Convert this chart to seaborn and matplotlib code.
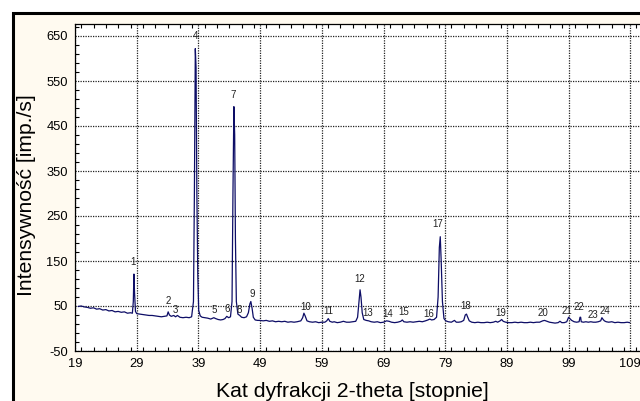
import matplotlib
matplotlib.use("Agg")
import matplotlib.pyplot as plt
from matplotlib.patches import Rectangle
from matplotlib.ticker import MultipleLocator, FixedLocator
import seaborn as sns
import pandas as pd

# ---- data ----
two_theta = [19.5, 20, 20.5, 21, 21.5, 22, 22.5, 23, 23.5, 24, 24.5, 25, 25.5, 26, 26.5, 27, 27.5, 28, 28.3,
             28.45, 28.55, 28.65, 28.8, 29, 29.5, 30, 30.5, 31, 31.5, 32, 32.5, 33, 33.5, 33.9, 34.1, 34.3,
             34.6, 35, 35.3, 35.6, 36, 36.5, 37, 37.5, 37.9, 38.2, 38.35, 38.5, 38.62, 38.75, 38.9, 39.05,
             39.3, 39.6, 40, 40.5, 41, 41.5, 41.8, 42.2, 42.6, 43, 43.3, 43.6, 43.9, 44.2, 44.45, 44.6,
             44.75, 44.88, 45.0, 45.15, 45.4, 45.7, 46, 46.4, 46.8, 47.1, 47.35, 47.5, 47.7, 47.9, 48.2,
             48.6, 49, 49.5, 50, 50.5, 51, 51.5, 52, 52.5, 53, 53.5, 54, 54.5, 55, 55.6, 55.9, 56.1, 56.3,
             56.6, 57, 57.5, 58, 58.5, 59, 59.5, 59.8, 60.05, 60.3, 60.7, 61, 61.5, 62, 62.5, 63, 63.5, 64,
             64.5, 64.8, 65.0, 65.2, 65.35, 65.55, 65.8, 66.2, 66.6, 67, 67.5, 68, 68.5, 69, 69.5, 69.9,
             70.3, 70.8, 71.3, 71.8, 72.05, 72.3, 72.8, 73.3, 73.8, 74.3, 74.8, 75.3, 75.8, 76.2, 76.5,
             76.8, 77.2, 77.6, 77.85, 78.05, 78.2, 78.35, 78.55, 78.8, 79.1, 79.5, 80, 80.5, 80.8, 81.2,
             81.6, 82, 82.25, 82.45, 82.65, 82.9, 83.3, 83.8, 84.3, 84.8, 85.3, 85.8, 86.3, 86.8, 87.2,
             87.5, 87.9, 88.15, 88.4, 88.8, 89.3, 89.8, 90.3, 90.8, 91.3, 91.8, 92.3, 92.8, 93.3, 93.8,
             94.3, 94.8, 95.1, 95.5, 95.9, 96.3, 96.8, 97.3, 97.6, 97.9, 98.3, 98.7, 99.0, 99.2, 99.5,
             99.9, 100.3, 100.7, 100.85, 100.95, 101.05, 101.4, 101.8, 102.2, 102.6, 103, 103.4, 103.8,
             104.2, 104.4, 104.6, 104.8, 105.1, 105.5, 106, 106.5, 107, 107.5, 108, 108.5, 108.9]
intensity = [49, 50, 48, 47, 45, 46, 43, 44, 41, 42, 39, 40, 37, 38, 36, 37, 34, 35, 34,
             60, 121, 80, 38, 33, 32, 31, 30, 29, 29, 28, 27, 26, 27, 28, 37, 30,
             27, 29, 26, 29, 25, 24, 25, 24, 26, 60, 300, 622, 580, 300, 120, 40,
             28, 25, 24, 23, 21, 24, 22, 20, 19, 20, 22, 27, 24, 26, 60, 300,
             493, 430, 200, 60, 32, 29, 25, 24, 26, 35, 55, 60, 45, 25, 19,
             18, 18, 17, 18, 16, 17, 15, 16, 15, 16, 14, 15, 14, 15, 17, 24, 34, 28,
             17, 15, 14, 15, 13, 14, 14, 17, 22, 16, 14, 15, 13, 14, 16, 14, 14, 15,
             16, 25, 55, 86, 70, 35, 20, 18, 17, 15, 14, 15, 13, 14, 17, 16,
             14, 13, 14, 16, 19, 15, 14, 15, 14, 15, 16, 15, 17, 19, 21,
             19, 20, 25, 70, 180, 204, 150, 60, 22, 17, 15, 14, 18, 14, 14,
             15, 18, 30, 32, 25, 17, 14, 13, 14, 13, 13, 14, 13, 14, 16,
             14, 17, 20, 16, 14, 13, 13, 14, 13, 14, 13, 13, 14, 13, 14,
             14, 17, 18, 16, 14, 13, 12, 13, 16, 13, 13, 15, 25, 22, 18,
             15, 14, 15, 25, 25, 15, 14, 15, 14, 15, 14, 14, 15,
             17, 24, 20, 17, 15, 14, 15, 13, 14, 13, 13, 14, 13]

peak_labels = [str(i) for i in range(1, 25)]
label_x = [28.45, 34.1, 35.3, 38.45, 41.6, 43.7, 44.65, 45.6, 47.7, 56.4, 60.05, 65.2,
           66.5, 69.7, 72.3, 76.3, 77.8, 82.3, 88.0, 94.9, 98.7, 100.6, 103.0, 104.95]
label_y = [148, 62, 42, 650, 41, 43, 520, 41, 76, 48, 39, 109,
           34, 31.5, 36, 31.5, 231.5, 50.7, 34, 35, 39, 47, 29, 38]

x_ticks = [19, 29, 39, 49, 59, 69, 79, 89, 99, 109]
y_ticks = [-50, 50, 150, 250, 350, 450, 550, 650]

df = pd.DataFrame({"two_theta": two_theta, "intensity": intensity})

# ---- figure ----
sns.set_style("white")
plt.rcParams["font.family"] = ["Liberation Sans", "DejaVu Sans"]

W, H = 640, 401
fig = plt.figure(figsize=(W / 100, H / 100), dpi=100)
fig.patch.set_facecolor("white")

# cream panel with black border (extends past right/bottom edges)
panel = Rectangle((12.5 / W, -0.1), 1.2, 1 - 12.5 / H + 0.1, transform=fig.transFigure,
                  facecolor="#fffaf0", edgecolor="black", linewidth=2.2, zorder=-5)
fig.patches.append(panel)

ax_left, ax_right, ax_top, ax_bot = 75, 645, 24, 351
ax = fig.add_axes([ax_left / W, (H - ax_bot) / H, (ax_right - ax_left) / W, (ax_bot - ax_top) / H])
ax.set_zorder(2)
ax.set_facecolor("white")

sns.lineplot(data=df, x="two_theta", y="intensity", ax=ax, color="#0d0d66", linewidth=0.9)

px_per_x = 61.7 / 10
px_per_y = 0.45
ax.set_xlim(19, 19 + (ax_right - ax_left) / px_per_x)
ax.set_ylim(-50, -50 + (ax_bot - ax_top) / px_per_y)

ax.xaxis.set_major_locator(FixedLocator(x_ticks))
ax.yaxis.set_major_locator(FixedLocator(y_ticks))
ax.xaxis.set_minor_locator(MultipleLocator(2))
ax.yaxis.set_minor_locator(FixedLocator(list(range(-50, 677, 20))))
ax.set_xticklabels([str(t) for t in x_ticks])
ax.set_yticklabels([str(t) for t in y_ticks])

ax.tick_params(axis="both", which="both", direction="in", top=True, bottom=True, left=True, right=False,
               color="black", labelsize=9.3, labelcolor="black")
ax.tick_params(axis="both", which="major", length=0, pad=5)
ax.tick_params(axis="both", which="minor", length=3, width=0.8)

ax.grid(True, which="major", color="#222222", linestyle=(0, (1, 1)), linewidth=0.9)
for s in ["left", "bottom", "top"]:
    ax.spines[s].set_visible(True)
    ax.spines[s].set_color("black")
    ax.spines[s].set_linewidth(0.9)
ax.spines["right"].set_visible(False)

ax.set_xlabel("")
ax.set_ylabel("")

for lab, lx, ly in zip(peak_labels, label_x, label_y):
    ax.text(lx, ly, lab, ha="center", va="center", fontsize=7, color="#222222")

fig.text(27 / W, (H - 195) / H, "Intensywność [imp./s]", rotation=90, ha="center", va="center",
         fontsize=15.2, color="black", zorder=3)
fig.text(352 / W, 4 / H, "Kat dyfrakcji 2-theta [stopnie]", ha="center", va="baseline",
         fontsize=15.2, color="black", zorder=3)

fig.savefig("out.png", dpi=100)
